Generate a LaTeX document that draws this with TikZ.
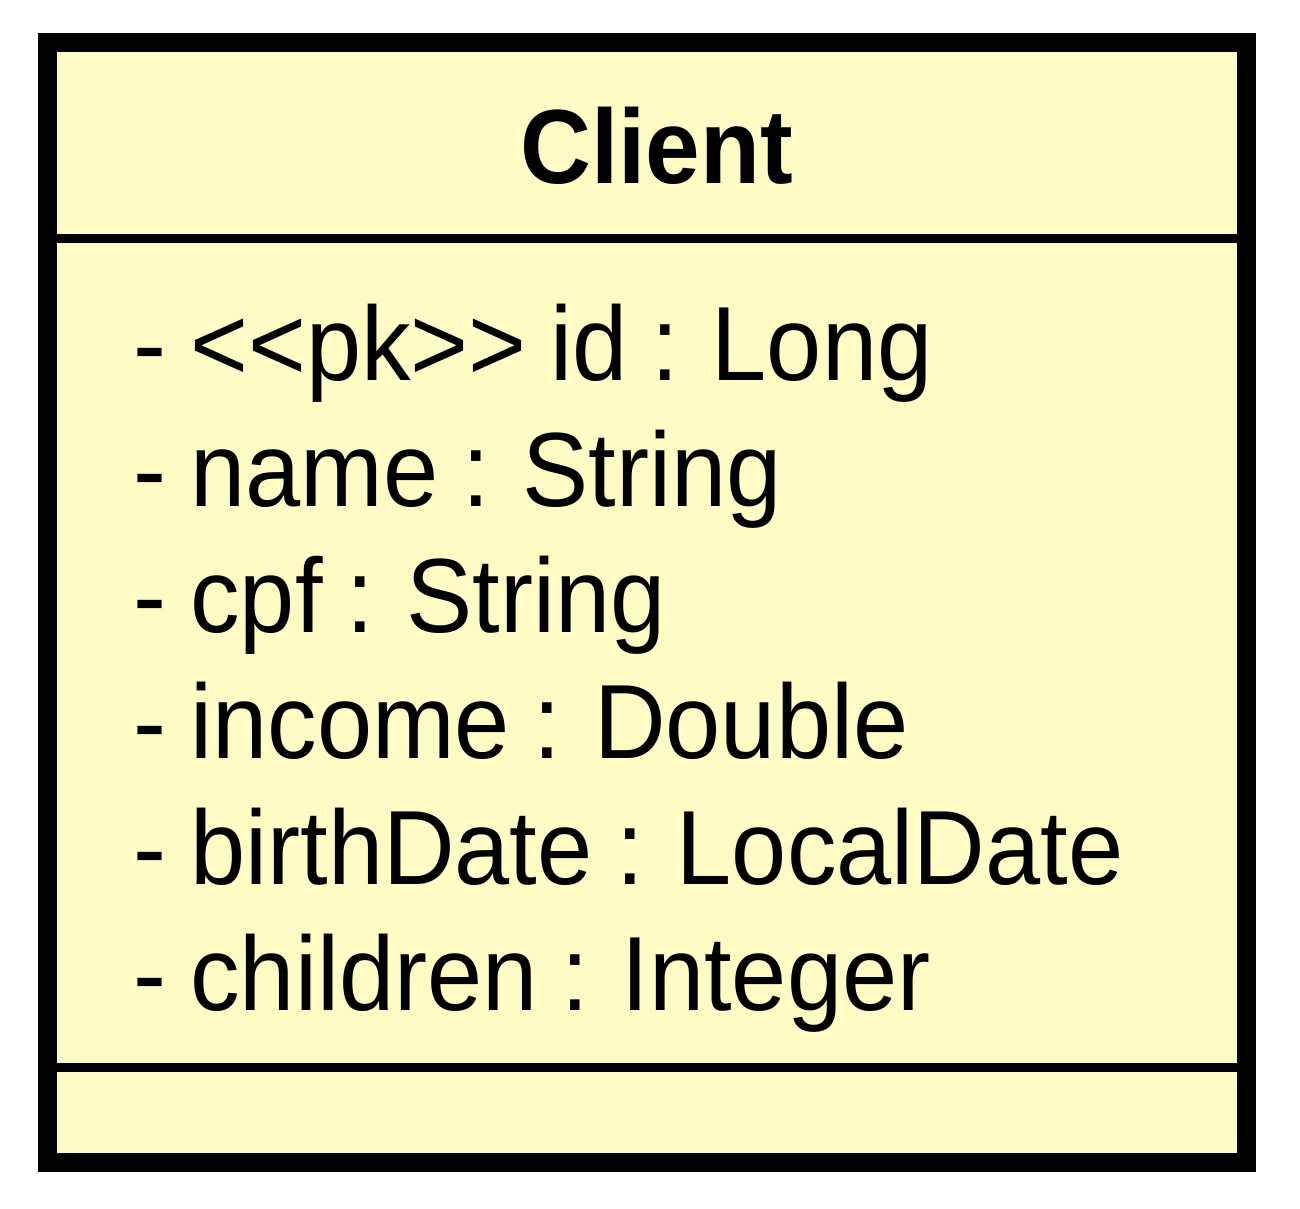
\documentclass[tikz,border=0pt]{standalone}
\usepackage{fontspec}
\usepackage{graphicx}
\setmainfont{Liberation Sans}
\newfontfamily\attrfont[WordSpace=0.86]{Liberation Sans}
\definecolor{classfill}{RGB}{254,252,196}
\tikzset{
  px/.style={x=0.01cm,y=-0.01cm},
  attr/.style={anchor=base west,inner sep=0pt,font=\attrfont\fontsize{30}{30}\selectfont},
  ttl/.style={anchor=base,inner sep=0pt,font=\fontsize{30}{30}\selectfont\bfseries},
  frame/.style={draw=black,line width=0.19cm,fill=classfill},
  divider/.style={draw=black,line width=0.09cm}
}
\newcommand{\hs}[1]{\scalebox{0.93}[1]{#1}}
\newcommand{\ha}[1]{\scalebox{0.94}[1]{#1}}
\begin{document}
\begin{tikzpicture}[px]
\useasboundingbox (0,0) rectangle (1300,1208);
\fill[white] (0,0) rectangle (1300,1208);
\draw[frame] (47.5,42.5) rectangle (1246.5,1162.5);
\coordinate (d1l) at (57,238.5);
\coordinate (d1r) at (1237,238.5);
\coordinate (d2l) at (57,1067.5);
\coordinate (d2r) at (1237,1067.5);
\draw[divider] (d1l) -- (d1r);
\draw[divider] (d2l) -- (d2r);
\node[ttl] (title) at (656.5,183) {\hs{Client}};
\node[attr] (a1) at (133,380) {\ha{- <{}<pk>{}> id : Long}};
\node[attr] (a2) at (133,506) {\ha{- name : String}};
\node[attr] (a3) at (133,632) {\ha{- cpf : String}};
\node[attr] (a4) at (133,758) {\ha{- income : Double}};
\node[attr] (a5) at (133,884) {\ha{- birthDate : LocalDate}};
\node[attr] (a6) at (133,1010) {\ha{- children : Integer}};
\end{tikzpicture}
\end{document}
